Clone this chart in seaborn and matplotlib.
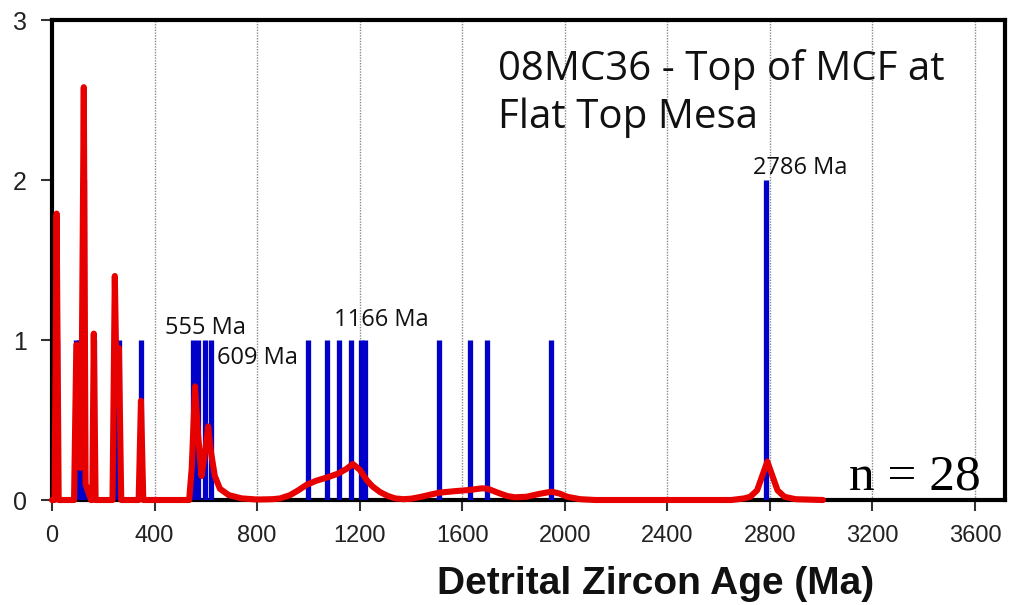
import numpy as np
import pandas as pd
import matplotlib
matplotlib.use("Agg")
import matplotlib.pyplot as plt
import seaborn as sns

# ---- data ----
# blue histogram bars: grain ages (Ma) and counts
bar_ages = [18, 94, 105, 124, 163, 245, 261, 346, 551, 571, 597, 621,
            1000, 1074, 1118, 1166, 1207, 1222, 1511, 1630, 1698, 1948, 2786]
bar_counts = [1, 1, 1, 2, 1, 1, 1, 1, 1, 1, 1, 1,
              1, 1, 1, 1, 1, 1, 1, 1, 1, 1, 2]

# red probability curve
curve_age = [0, 10, 18, 26, 86, 95, 103, 110, 117, 124, 131, 152, 157, 163, 170,
             236, 245, 253, 261, 270, 338, 347, 356, 535, 545, 558, 570, 583, 597,
             609, 620, 635, 655, 690, 740, 800, 860, 890, 928, 960, 993, 1030,
             1071, 1116, 1149, 1173, 1200, 1227, 1250, 1279, 1310, 1338, 1370,
             1400, 1440, 1480, 1511, 1570, 1630, 1677, 1700, 1740, 1775, 1805,
             1850, 1900, 1948, 1980, 2010, 2060, 2120, 2650, 2700, 2723, 2750,
             2770, 2790, 2810, 2830, 2857, 2900, 3007]
curve_prob = [0, 0, 1.79, 0, 0, 0.97, 0.95, 0.2, 1.0, 2.58, 0.1, 0, 0, 1.04, 0,
              0, 1.40, 0.6, 0.95, 0, 0, 0.62, 0, 0, 0.2, 0.71, 0.4, 0.15, 0.3,
              0.46, 0.3, 0.15, 0.07, 0.03, 0.01, 0.003, 0.005, 0.01, 0.03, 0.06,
              0.095, 0.12, 0.14, 0.165, 0.195, 0.225, 0.19, 0.125, 0.085, 0.05,
              0.025, 0.01, 0.005, 0.008, 0.02, 0.035, 0.046, 0.055, 0.063, 0.073,
              0.07, 0.045, 0.025, 0.017, 0.02, 0.038, 0.052, 0.04, 0.02, 0.005,
              0.0, 0, 0.01, 0.02, 0.06, 0.15, 0.24, 0.15, 0.06, 0.02, 0.005, 0]

x_ticks = [0, 400, 800, 1200, 1600, 2000, 2400, 2800, 3200, 3600]
y_ticks = [0, 1, 2, 3]

peak_labels = ["555 Ma", "609 Ma", "1166 Ma", "2786 Ma"]
peak_label_pos = [(440, 1.0), (645, 0.81), (1100, 1.05), (2735, 2.0)]

title_text = "08MC36 - Top of MCF at\nFlat Top Mesa"
n_text = "n = 28"
x_label = "Detrital Zircon Age (Ma)"

# ---- drawing ----
sns.set_theme(style="white")
plt.rcParams["font.family"] = ["Liberation Sans", "DejaVu Sans"]

fig = plt.figure(figsize=(10.1, 6.05), dpi=100)
ax = fig.add_axes([52 / 1010, 105 / 605, (1005 - 52) / 1010, (500 - 20) / 605])

ax.vlines(bar_ages, 0, bar_counts, color="#0000c8", linewidth=3.8, zorder=2.6)

curve = pd.DataFrame({"age": curve_age, "prob": curve_prob})
sns.lineplot(data=curve, x="age", y="prob", sort=False, ax=ax, color="#e60000",
             linewidth=4.4, zorder=3, clip_on=False)

ax.set_xlim(0, 3717)
ax.set_ylim(0, 3)
ax.set_xticks(x_ticks)
ax.set_yticks(y_ticks)
ax.set_xticklabels([str(t) for t in x_ticks], fontsize=17, color="#222222")
ax.set_yticklabels([str(t) for t in y_ticks], fontsize=18, color="#222222")
ax.tick_params(axis="both", direction="out", length=8, width=1.5, color="#333333",
               bottom=True, left=True)
ax.tick_params(axis="x", pad=10)
ax.tick_params(axis="y", pad=10)

for s in ax.spines.values():
    s.set_visible(True)
    s.set_color("black")
    s.set_linewidth(3)

ax.xaxis.grid(True, color="#8a8a8a", linewidth=1.0, linestyle=(0, (1, 1)))
ax.yaxis.grid(False)
ax.set_axisbelow(True)

ax.set_xlabel(x_label, fontsize=28, fontweight="bold", color="#111111")
ax.xaxis.set_label_coords(0.633, -0.138)
ax.set_ylabel("")

ax.text(0.468, 0.94, title_text, transform=ax.transAxes, ha="left", va="top",
        fontsize=29, family=["Open Sans", "DejaVu Sans"], color="#111111",
        linespacing=1.25)

for lab, (xx, yy) in zip(peak_labels, peak_label_pos):
    ax.text(xx, yy, lab, fontsize=17, family=["Open Sans", "DejaVu Sans"],
            color="#111111", ha="left", va="bottom", zorder=4)

ax.text(0.975, 0.0, n_text, transform=ax.transAxes, ha="right", va="bottom",
        fontsize=37, family=["Liberation Serif", "DejaVu Serif"], color="black",
        zorder=5)

fig.savefig("out.png", dpi=100)
